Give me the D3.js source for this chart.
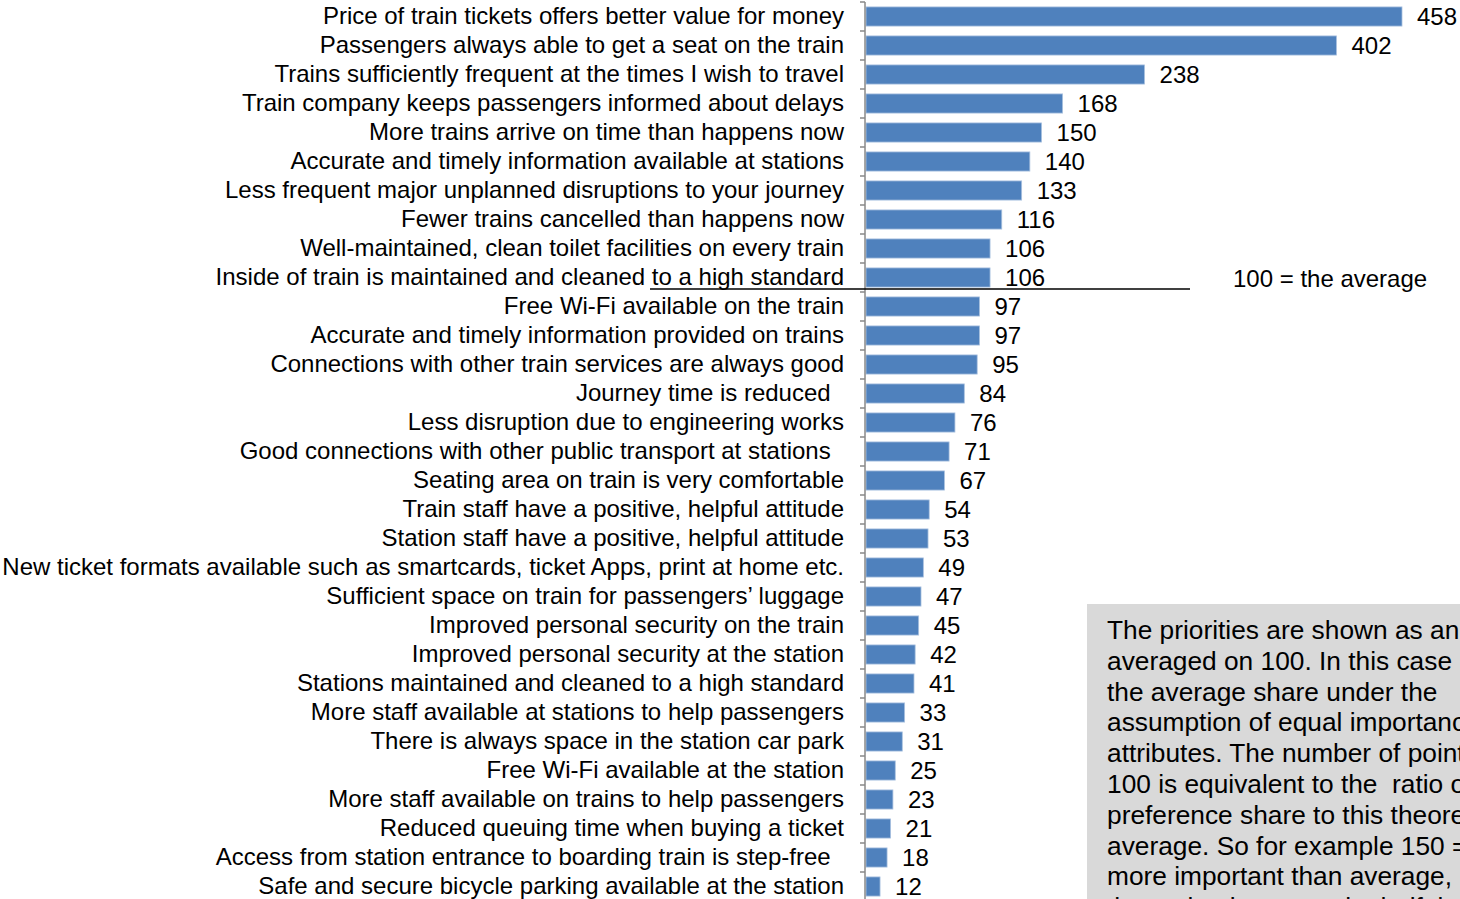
<!DOCTYPE html>
<html><head><meta charset="utf-8">
<script src="https://cdn.jsdelivr.net/npm/d3@7"></script>
<style>
html,body{margin:0;padding:0;background:#fff;overflow:hidden}
svg text{font-family:"Liberation Sans",Arial,sans-serif;white-space:pre}
</style></head>
<body>
<svg id="c" width="1460" height="899"></svg>
<script>
const categories = [
"Price of train tickets offers better value for money",
"Passengers always able to get a seat on the train",
"Trains sufficiently frequent at the times I wish to travel",
"Train company keeps passengers informed about delays",
"More trains arrive on time than happens now",
"Accurate and timely information available at stations",
"Less frequent major unplanned disruptions to your journey",
"Fewer trains cancelled than happens now",
"Well-maintained, clean toilet facilities on every train",
"Inside of train is maintained and cleaned to a high standard",
"Free Wi-Fi available on the train",
"Accurate and timely information provided on trains",
"Connections with other train services are always good",
"Journey time is reduced  ",
"Less disruption due to engineering works",
"Good connections with other public transport at stations  ",
"Seating area on train is very comfortable",
"Train staff have a positive, helpful attitude",
"Station staff have a positive, helpful attitude",
"New ticket formats available such as smartcards, ticket Apps, print at home etc.",
"Sufficient space on train for passengers\u2019 luggage",
"Improved personal security on the train",
"Improved personal security at the station",
"Stations maintained and cleaned to a high standard",
"More staff available at stations to help passengers",
"There is always space in the station car park",
"Free Wi-Fi available at the station",
"More staff available on trains to help passengers",
"Reduced queuing time when buying a ticket",
"Access from station entrance to boarding train is step-free  ",
"Safe and secure bicycle parking available at the station"
];
const values = [458,402,238,168,150,140,133,116,106,106,97,97,95,84,76,71,67,54,53,49,47,45,42,41,33,31,25,23,21,18,12];
const averageValue = 100;
const averageLabel = "100 = the average";
const noteLines = [
"The priorities are shown as an index",
"averaged on 100. In this case 100 is",
"the average share under the",
"assumption of equal importance of all",
"attributes. The number of points above",
"100 is equivalent to the  ratio of the",
"preference share to this theoretical",
"average. So for example 150 = 50%",
"more important than average,",
"the option is one and a half times as"
];

const svg = d3.select("#c");
const x0 = 865;
const x = d3.scaleLinear().domain([0, 458]).range([x0, x0 + 536]);
const y = d3.scaleBand().domain(categories).range([2, 2 + 29*31]).paddingInner(0.34).paddingOuter(0.17);

// note box
svg.append("rect").attr("x",1087).attr("y",604).attr("width",400).attr("height",320).attr("fill","#d9d9d9");
svg.append("g").selectAll("text").data(noteLines).join("text")
  .attr("x",1107).attr("y",(d,i)=>639+i*30.8)
  .attr("font-size",26.3).attr("fill","#000").text(d=>d);

// bars
svg.append("g").selectAll("rect").data(values).join("rect")
  .attr("x", x(0)+1).attr("y",(d,i)=>y(categories[i]))
  .attr("width",d=>x(d)-x(0)).attr("height",y.bandwidth())
  .attr("fill","#4f81bd").attr("stroke","#a9c1df").attr("stroke-width",0.8);

// value labels
svg.append("g").selectAll("text").data(values).join("text")
  .attr("x",d=>x(d)+16).attr("y",(d,i)=>y(categories[i])+y.bandwidth()/2+8.5)
  .attr("font-size",24).attr("fill","#000").text(d=>d);

// axis
const axis = d3.axisLeft(y).tickSize(0).tickPadding(21);
const ag = svg.append("g").attr("transform",`translate(${x0},0)`).call(axis);
ag.select(".domain").attr("stroke","#888").attr("stroke-width",1.5);
ag.selectAll(".tick text").attr("font-size",24).attr("fill","#000").attr("dy","0.3em").attr("font-family","Liberation Sans, Arial, sans-serif");
// category boundary ticks
const bounds = d3.range(categories.length+1).map(i => 2 + i*29);
svg.append("g").selectAll("line").data(bounds).join("line")
  .attr("x1",x0-5).attr("x2",x0).attr("y1",d=>d).attr("y2",d=>d)
  .attr("stroke","#888").attr("stroke-width",1.5);
ag.select(".domain").attr("d",`M0,2V${2+29*31}`);

// average line
const avgY = 289;
svg.append("line").attr("x1",650).attr("x2",1190).attr("y1",avgY).attr("y2",avgY)
  .attr("stroke","#000").attr("stroke-width",1.5);
svg.append("text").attr("x",1233).attr("y",287).attr("font-size",24).attr("fill","#000").text(averageLabel);
</script>
</body></html>
